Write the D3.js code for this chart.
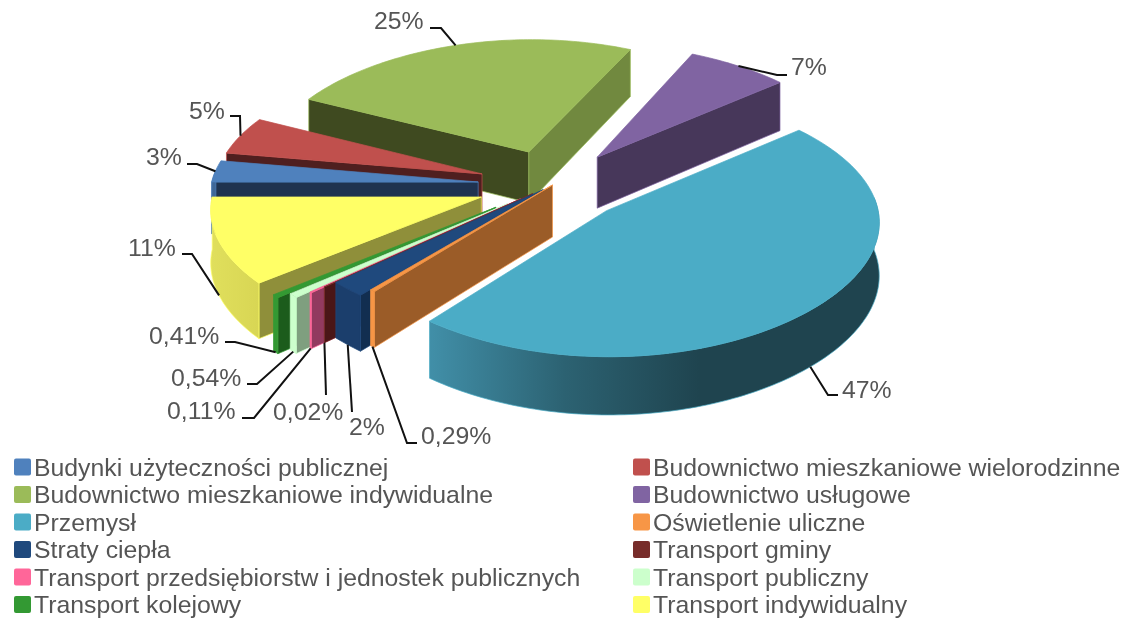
<!DOCTYPE html>
<html>
<head>
<meta charset="utf-8">
<script src="https://cdn.jsdelivr.net/npm/d3@7"></script>
<style>
  html, body { margin: 0; padding: 0; background: #fff; }
  svg { display: block; filter: blur(0.45px); }
  text { font-family: "Liberation Sans", Arial, sans-serif; fill: #555; }
</style>
</head>
<body>
<svg id="chart"></svg>
<script>
const W = 1125, H = 619;

const categories = [
  "Budynki użyteczności publicznej", "Budownictwo mieszkaniowe wielorodzinne",
  "Budownictwo mieszkaniowe indywidualne", "Budownictwo usługowe",
  "Przemysł", "Oświetlenie uliczne",
  "Straty ciepła", "Transport gminy",
  "Transport przedsiębiorstw i jednostek publicznych", "Transport publiczny",
  "Transport kolejowy", "Transport indywidualny"
];
const values = [2.7, 4.7, 24.6, 6.9, 47, 0.29, 2, 0.02, 0.11, 0.54, 0.41, 10.73];
const valueLabels = ["3%", "5%", "25%", "7%", "47%", "0,29%", "2%", "0,02%", "0,11%", "0,54%", "0,41%", "11%"];
const explode = [0.28, 0.28, 0.28, 0.28, 0.28, 0, 0.05, 0.1, 0.16, 0.22, 0.27, 0.28];

const topColors = ["#4f81bd", "#c0504d", "#9bbb59", "#8064a2", "#4bacc6", "#f79646", "#1f497d", "#772c2a", "#ff6699", "#ccffcc", "#339933", "#ffff66"];
const rimColors = ["#3f6797", "#5a2020", "#71893f", "#47375a", "url(#teal-rim)", "#f79646", "#1b3e6c", "#772c2a", "#ff6699", "#ccffcc", "#339933", "url(#yellow-rim)"];
const startWallColors = ["#1f3350", "#4f1f1f", "#3f4a20", "#47375a", "#4bacc6", "#9b5c28", "#122e50", "#4a1617", "#923a5f", "#7f9f7f", "#1c5c1c", "#8f8f3a"];
const endWallColors = ["#1f3350", "#4f1f1f", "#71893f", "#47375a", "#4bacc6", "#9b5c28", "#122e50", "#4a1617", "#923a5f", "#7f9f7f", "#1c5c1c", "#8f8f3a"];

// back to front
const drawOrder = [2, 3, 1, 0, 11, 10, 9, 8, 7, 6, 5, 4];

// label position and leader points, per slice
const labelLayout = [
  { x: 146, y: 165, bend: [[187, 164], [197, 164]], drop: 0 },
  { x: 189, y: 119, bend: [[230, 116], [240, 116]], drop: 0 },
  { x: 374, y: 29, bend: [[430, 28], [441, 28]], drop: 0 },
  { x: 791, y: 75, bend: [[787, 75], [777, 75]], drop: 0 },
  { x: 842, y: 398, bend: [[838, 395], [828, 395]], drop: 1 },
  { x: 421, y: 444, bend: [[417, 443], [407, 443]], drop: 1 },
  { x: 349, y: 435, bend: [[352, 412]], drop: 1 },
  { x: 273, y: 420, bend: [[326, 395]], drop: 1 },
  { x: 167, y: 419, bend: [[242, 418], [254, 418]], drop: 1 },
  { x: 171, y: 386, bend: [[247, 384], [257, 384]], drop: 1 },
  { x: 149, y: 344, bend: [[225, 342], [235, 342]], drop: 1 },
  { x: 128, y: 256, bend: [[182, 254], [192, 254]], drop: 1 }
];

const cx = 552.5, cy = 185, radiusX = 267, radiusY = 128, depth = 52;

const svg = d3.select("#chart").attr("width", W).attr("height", H).attr("viewBox", `0 0 ${W} ${H}`);

const defs = svg.append("defs");
const tealGrad = defs.append("linearGradient").attr("id", "teal-rim").attr("x1", "0%").attr("x2", "100%").attr("y1", "0%").attr("y2", "0%");
tealGrad.append("stop").attr("offset", "0%").attr("stop-color", "#418fa8");
tealGrad.append("stop").attr("offset", "30%").attr("stop-color", "#2c6272");
tealGrad.append("stop").attr("offset", "60%").attr("stop-color", "#1f444f");
tealGrad.append("stop").attr("offset", "100%").attr("stop-color", "#1f444f");
const yellowGrad = defs.append("linearGradient").attr("id", "yellow-rim").attr("x1", "0%").attr("x2", "100%").attr("y1", "0%").attr("y2", "0%");
yellowGrad.append("stop").attr("offset", "0%").attr("stop-color", "#e0df5c");
yellowGrad.append("stop").attr("offset", "100%").attr("stop-color", "#d8d654");

const pie = d3.pie().sort(null)
  .startAngle(1.5 * Math.PI)
  .endAngle(3.5 * Math.PI);
const arcs = pie(values);

function project(px, py, drop) {
  const wx = 1 + 0.09 * py + 0.03 * py * py;
  const wy = 1 + 0.09 * py;
  return [cx + radiusX * px / wx, cy - radiusY * py / wy + (drop ? depth / wy : 0)];
}

// plane coordinates of one slice, r = 0 is the tip
function point(i, angle, r, drop) {
  const mid = (arcs[i].startAngle + arcs[i].endAngle) / 2;
  const px = explode[i] * Math.sin(mid) + r * Math.sin(angle);
  const py = explode[i] * Math.cos(mid) + r * Math.cos(angle);
  return project(px, py, drop);
}

function rimAngles(i) {
  const a = arcs[i];
  const n = Math.max(2, Math.ceil((a.endAngle - a.startAngle) / 0.02));
  return d3.range(n + 1).map(k => a.startAngle + (a.endAngle - a.startAngle) * k / n);
}

const closed = d3.line().curve(d3.curveLinearClosed);

function wall(i, angle) {
  return closed([point(i, angle, 0, 0), point(i, angle, 1, 0), point(i, angle, 1, 1), point(i, angle, 0, 1)]);
}

// only the part of the outer face turned to the viewer
function rimPath(i) {
  const angles = rimAngles(i).filter(t => Math.cos(t) < 0.1);
  if (angles.length < 2) return null;
  return closed(angles.map(t => point(i, t, 1, 0)).concat(angles.slice().reverse().map(t => point(i, t, 1, 1))));
}

const slices = svg.append("g").selectAll("g").data(drawOrder).join("g");

// a cut face shows only when it looks towards the viewer
slices.append("path").attr("d", i => Math.sin(arcs[i].endAngle) > 0 ? wall(i, arcs[i].endAngle) : null)
  .attr("fill", i => endWallColors[i]).attr("stroke", i => topColors[i]).attr("stroke-width", 0.7);
slices.append("path").attr("d", i => Math.sin(arcs[i].startAngle) < 0 ? wall(i, arcs[i].startAngle) : null)
  .attr("fill", i => startWallColors[i]).attr("stroke", i => topColors[i]).attr("stroke-width", 0.7);
slices.append("path")
  .attr("d", i => rimPath(i))
  .attr("fill", i => rimColors[i]).attr("stroke", i => topColors[i]).attr("stroke-width", 0.7);
slices.append("path")
  .attr("d", i => closed([point(i, arcs[i].startAngle, 0, 0)].concat(rimAngles(i).map(t => point(i, t, 1, 0)))))
  .attr("fill", i => topColors[i]).attr("stroke", i => topColors[i]).attr("stroke-width", 0.7);

// leaders and value labels
const leader = d3.line();
const labels = svg.append("g").selectAll("g").data(d3.range(values.length)).join("g");
labels.append("path")
  .attr("fill", "none").attr("stroke", "#111").attr("stroke-width", 2)
  .attr("d", i => {
    const l = labelLayout[i];
    const mid = (arcs[i].startAngle + arcs[i].endAngle) / 2;
    return leader(l.bend.concat([point(i, mid, 1, l.drop)]));
  });
labels.append("text")
  .attr("x", i => labelLayout[i].x).attr("y", i => labelLayout[i].y)
  .attr("font-size", 24.8)
  .text(i => valueLabels[i]);

// legend, two columns
const legendX = d3.scalePoint().domain([0, 1]).range([14, 633]);
const legendY = d3.scaleLinear().domain([0, 5]).range([467, 604.5]);
const legend = svg.append("g").selectAll("g").data(categories).join("g")
  .attr("transform", (d, i) => `translate(${legendX(i % 2)},${legendY(Math.floor(i / 2))})`);
legend.append("rect")
  .attr("x", 0).attr("y", -8.5).attr("width", 17).attr("height", 17).attr("rx", 2)
  .attr("fill", (d, i) => topColors[i]);
legend.append("text")
  .attr("x", 20).attr("y", 8.5)
  .attr("font-size", 24.8)
  .text(d => d);
</script>
</body>
</html>
